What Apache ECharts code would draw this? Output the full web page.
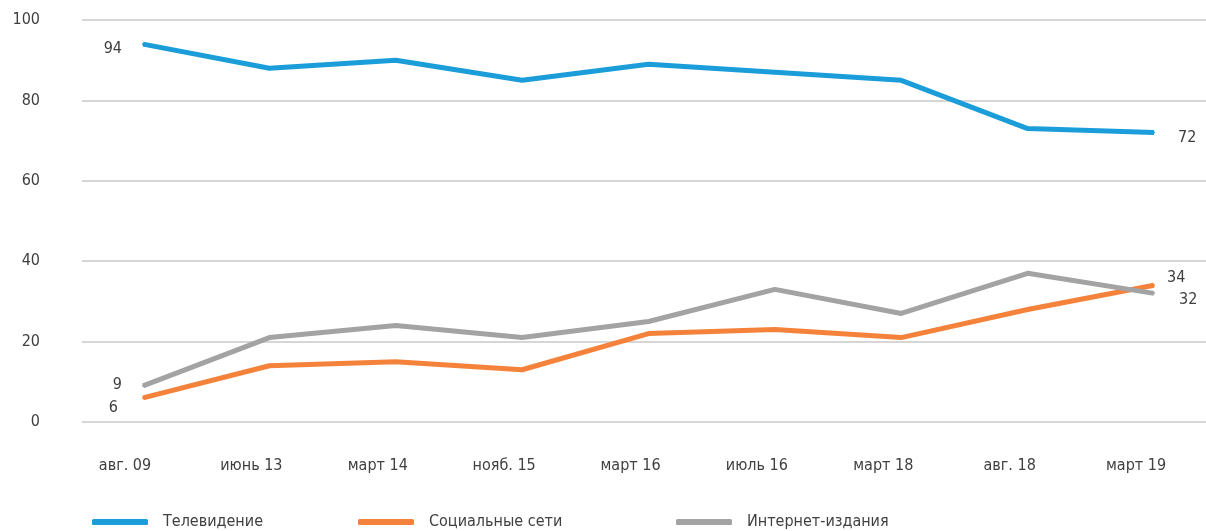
<!DOCTYPE html>
<html><head><meta charset="utf-8">
<script src="https://cdn.jsdelivr.net/npm/echarts@6/dist/echarts.min.js"></script>
<style>html,body{margin:0;padding:0;background:#fff}#c{width:1206px;height:531px}</style>
</head><body><div id="c"></div>
<script>
const categories = ['авг. 09','июнь 13','март 14','нояб. 15','март 16','июль 16','март 18','авг. 18','март 19'];
const tvValues = [94, 88, 90, 85, 89, 87, 85, 73, 72];
const socialValues = [6, 14, 15, 13, 22, 23, 21, 28, 34];
const internetValues = [9, 21, 24, 21, 25, 33, 27, 37, 32];
const seriesNames = ['Телевидение', 'Социальные сети', 'Интернет-издания'];
const yTicks = [0, 20, 40, 60, 80, 100];

const FONT = "'Liberation Sans Narrow','DejaVu Sans Condensed','Roboto',sans-serif";
const TXT = '#404040';
const colors = ['#1B9DDA', '#F4823A', '#A3A3A3'];

function build(values, firstLbl, lastLbl) {
  return values.map((v, i) => {
    const d = { value: v };
    let l = null;
    if (i === 0) l = firstLbl;
    if (i === values.length - 1) l = lastLbl;
    d.label = l ? Object.assign({ show: true, color: TXT, fontFamily: FONT, fontSize: 16 }, l) : { show: false };
    return d;
  });
}

const chart = echarts.init(document.getElementById('c'), null, { renderer: 'canvas' });
const common = {
  type: 'line', xAxisIndex: 1, yAxisIndex: 1, symbol: 'circle', symbolSize: 2, showSymbol: true,
  lineStyle: { width: 5, join: 'round' }, silent: true, animation: false, z: 3
};
chart.setOption({
  animation: false,
  textStyle: { fontFamily: FONT },
  grid: [
    { left: 82, right: 0, top: 20, bottom: 109 },
    { left: 143, right: 52, top: 20, bottom: 109 }
  ],
  xAxis: [
    { gridIndex: 0, type: 'value', min: 0, max: 1, show: false },
    { gridIndex: 1, type: 'category', data: categories, boundaryGap: false,
      axisLine: { show: false }, axisTick: { show: false }, splitLine: { show: false },
      axisLabel: { color: TXT, fontSize: 16, fontFamily: FONT, margin: 36, padding: [0, 36, 0, 0], interval: 0 } }
  ],
  yAxis: [
    { gridIndex: 0, type: 'value', min: yTicks[0], max: yTicks[yTicks.length - 1], interval: 20,
      axisLine: { show: false }, axisTick: { show: false },
      splitLine: { show: true, lineStyle: { color: '#D6D6D6', width: 2 } },
      axisLabel: { color: TXT, fontSize: 16, fontFamily: FONT, margin: 42, padding: [6, 0, 0, 0] } },
    { gridIndex: 1, type: 'value', min: 0, max: 100, show: false, splitLine: { show: false } }
  ],
  legend: [
    { data: [seriesNames[0]], left: 92, top: 514 },
    { data: [seriesNames[1]], left: 358, top: 514 },
    { data: [seriesNames[2]], left: 676, top: 514 }
  ].map(l => Object.assign(l, {
    icon: 'roundRect', itemWidth: 56, itemHeight: 6, selectedMode: false, padding: 0,
    textStyle: { color: TXT, fontSize: 16, fontFamily: FONT, padding: [0, 0, 0, 10] }
  })),
  series: [
    Object.assign({}, common, { name: seriesNames[0], color: colors[0],
      itemStyle: { color: colors[0] }, lineStyle: Object.assign({}, common.lineStyle, { color: colors[0] }),
      data: build(tvValues, { position: 'left', distance: 20, offset: [0, 5] }, { position: 'right', distance: 23, offset: [0, 5] }) }),
    Object.assign({}, common, { name: seriesNames[1], color: colors[1],
      itemStyle: { color: colors[1] }, lineStyle: Object.assign({}, common.lineStyle, { color: colors[1] }),
      data: build(socialValues, { position: 'left', distance: 24, offset: [0, 10] }, { position: 'right', distance: 12, offset: [0, -7] }) }),
    Object.assign({}, common, { name: seriesNames[2], color: colors[2],
      itemStyle: { color: colors[2] }, lineStyle: Object.assign({}, common.lineStyle, { color: colors[2] }),
      data: build(internetValues, { position: 'left', distance: 20, offset: [0, -1] }, { position: 'right', distance: 24, offset: [0, 6] }) })
  ]
});
</script>
</body></html>
